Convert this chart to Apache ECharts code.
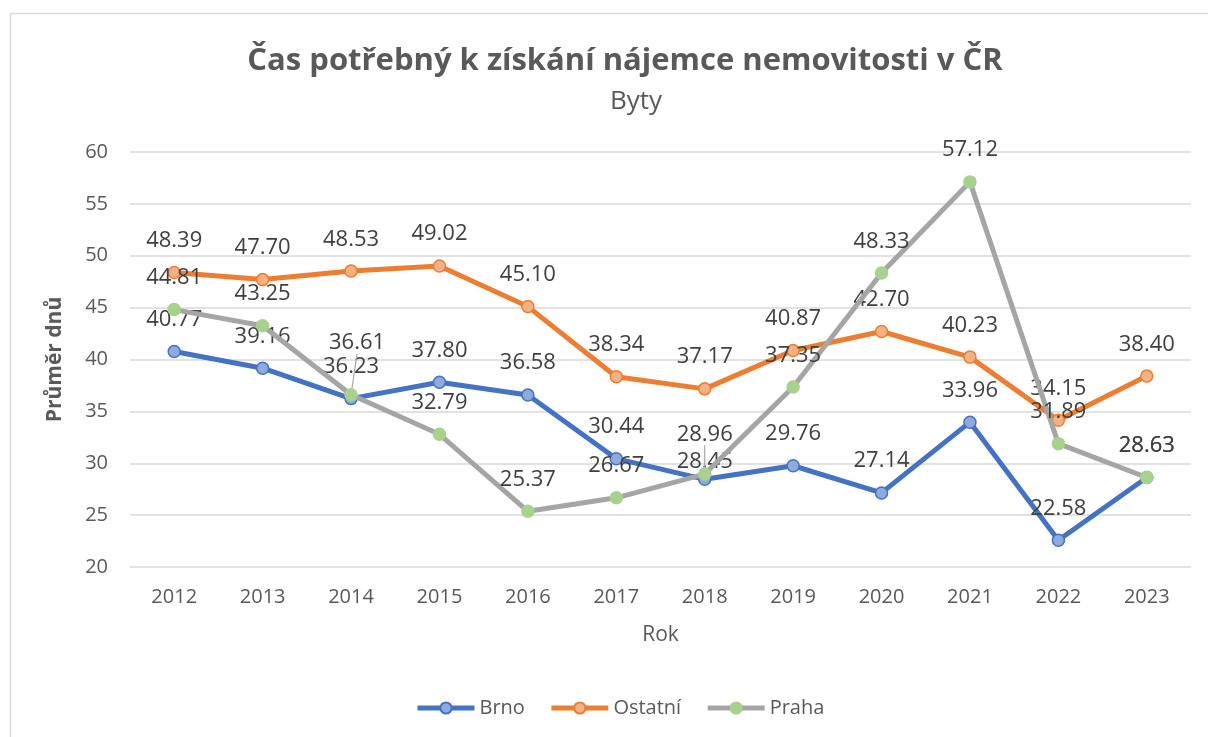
<!DOCTYPE html>
<html>
<head>
<meta charset="utf-8">
<script src="https://cdn.jsdelivr.net/npm/echarts@6/dist/echarts.min.js"></script>
<style>html,body{margin:0;padding:0;background:#fff}#c{width:1208px;height:737px}</style>
</head>
<body>
<div id="c"></div>
<script>
const years = ['2012','2013','2014','2015','2016','2017','2018','2019','2020','2021','2022','2023'];
const brno = [40.77, 39.16, 36.23, 37.80, 36.58, 30.44, 28.45, 29.76, 27.14, 33.96, 22.58, 28.63];
const ostatni = [48.39, 47.70, 48.53, 49.02, 45.10, 38.34, 37.17, 40.87, 42.70, 40.23, 34.15, 38.40];
const praha = [44.81, 43.25, 36.61, 32.79, 25.37, 26.67, 28.96, 37.35, 48.33, 57.12, 31.89, 28.63];

const FONT = '"Open Sans", "Noto Sans", sans-serif';
const chart = echarts.init(document.getElementById('c'), null, {renderer: 'canvas'});

// manual label nudges (dx, dy, showLeaderLine) per series / category index
const nudges = {
  'Brno': {6: [0, 14, false]},
  'Praha': {2: [6, -20, true], 6: [0, -8, true]}
};

function mk(name, values, lineColor, fill, border, z) {
  const n = nudges[name] || {};
  const data = values.map((v, i) => (n[i] && n[i][2])
    ? {value: v, labelLine: {show: true, lineStyle: {color: '#A6A6A6', width: 1.2}}}
    : v);
  return {
    name: name, type: 'line', data: data, z: z,
    symbol: 'circle', symbolSize: 12,
    lineStyle: {color: lineColor, width: 5},
    itemStyle: {color: fill, borderColor: border, borderWidth: 1.5},
    label: {
      show: true, position: 'top', distance: 14,
      formatter: p => p.value.toFixed(2),
      fontFamily: FONT, fontSize: 22, color: '#404040'
    },
    labelLine: {show: false},
    labelLayout: function (p) {
      const d = n[p.dataIndex];
      if (!d) return {hideOverlap: false};
      return {dx: d[0], dy: d[1], hideOverlap: false};
    },
    emphasis: {disabled: true}
  };
}

chart.setOption({
  animation: false,
  backgroundColor: '#fff',
  textStyle: {fontFamily: FONT},
  graphic: [
    {type: 'line', shape: {x1: 10.5, y1: 13, x2: 10.5, y2: 737}, style: {stroke: '#d9d9d9', lineWidth: 1.5}},
    {type: 'line', shape: {x1: 10, y1: 13.5, x2: 1208, y2: 13.5}, style: {stroke: '#d9d9d9', lineWidth: 1.5}}
  ],
  title: [
    {text: 'Čas potřebný k získání nájemce nemovitosti v ČR', left: 620, textAlign: 'center', top: 41,
     textStyle: {fontFamily: FONT, fontSize: 31, fontWeight: 'bold', color: '#595959'}},
    {text: 'Byty', left: 631, textAlign: 'center', top: 84,
     textStyle: {fontFamily: FONT, fontSize: 26, fontWeight: 'normal', color: '#595959'}}
  ],
  legend: {
    bottom: 14, left: 410, itemWidth: 57, itemHeight: 14, itemGap: 24,
    textStyle: {fontFamily: FONT, fontSize: 20, color: '#595959'},
    lineStyle: {width: 5},
    data: ['Brno', 'Ostatní', 'Praha']
  },
  grid: {left: 130, right: 17, top: 152, bottom: 170},
  xAxis: {
    type: 'category', data: years, boundaryGap: true,
    name: 'Rok', nameLocation: 'middle', nameGap: 58,
    nameTextStyle: {fontFamily: FONT, fontSize: 21, color: '#595959'},
    axisLine: {show: false}, axisTick: {show: false},
    axisLabel: {fontFamily: FONT, fontSize: 20, color: '#595959', margin: 20}
  },
  yAxis: {
    type: 'value', min: 20, max: 60, interval: 5,
    name: 'Průměr dnů', nameLocation: 'middle', nameGap: 64,
    nameTextStyle: {fontFamily: FONT, fontSize: 21, fontWeight: 'bold', color: '#595959'},
    axisLine: {show: false}, axisTick: {show: false},
    axisLabel: {fontFamily: FONT, fontSize: 20, color: '#595959', margin: 22},
    splitLine: {lineStyle: {color: '#d9d9d9', width: 1.5}}
  },
  series: [
    mk('Brno', brno, '#4472C4', '#8FAADC', '#4472C4', 3),
    mk('Ostatní', ostatni, '#ED7D31', '#F4B183', '#ED7D31', 4),
    mk('Praha', praha, '#A5A5A5', '#A9D18E', '#A9D18E', 5)
  ]
});
</script>
</body>
</html>
